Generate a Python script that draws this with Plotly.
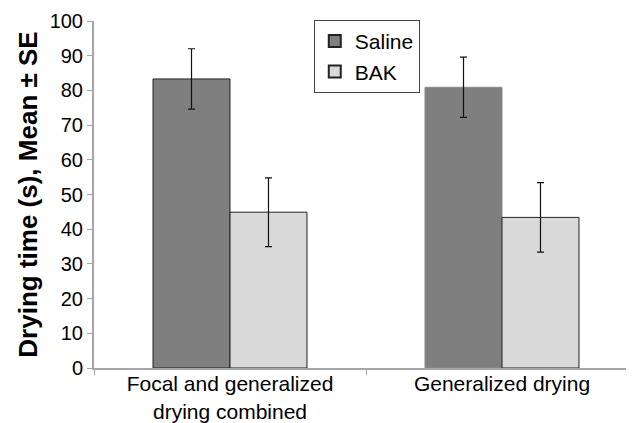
import plotly.graph_objects as go

categories = ["Focal and generalized<br>drying combined", "Generalized drying"]
saline_mean = [83.3, 80.9]
saline_se = [8.7, 8.7]
bak_mean = [44.9, 43.4]
bak_se = [9.9, 10.0]
y_ticks = [0, 10, 20, 30, 40, 50, 60, 70, 80, 90, 100]

FONT = "Arial, Liberation Sans, sans-serif"

fig = go.Figure()
fig.add_trace(go.Bar(
    name="Saline", x=categories, y=saline_mean,
    marker=dict(color="#7f7f7f", line=dict(color=["#222222", "#8a8a8a"], width=1)),
    error_y=dict(type="data", array=saline_se, color="#111111", thickness=1.2, width=3.5),
))
fig.add_trace(go.Bar(
    name="BAK", x=categories, y=bak_mean,
    marker=dict(color="#d9d9d9", line=dict(color="#222222", width=1)),
    error_y=dict(type="data", array=bak_se, color="#111111", thickness=1.2, width=3.5),
))

fig.update_layout(
    width=634, height=423,
    margin=dict(l=86, r=4, t=13, b=63),
    paper_bgcolor="white", plot_bgcolor="white",
    barmode="group", bargap=0.434, bargroupgap=0,
    font=dict(family=FONT, size=20, color="#000000"),
    showlegend=True,
    legend=dict(
        x=0.404, y=1.003, xanchor="left", yanchor="top",
        bordercolor="#444444", borderwidth=1, bgcolor="white",
        font=dict(size=21), tracegroupgap=0, itemsizing="constant",
    ),
    xaxis=dict(
        showline=True, linecolor="#a6a6a6", linewidth=2,
        ticks="outside", tickson="boundaries", ticklen=5, tickcolor="#a6a6a6",
        tickfont=dict(size=21), showgrid=False, automargin=False,
        ticklabelstandoff=-4,
    ),
    yaxis=dict(
        range=[0, 100], tickvals=y_ticks,
        showline=True, linecolor="#a6a6a6", linewidth=2,
        ticks="outside", ticklen=5, tickcolor="#a6a6a6",
        tickfont=dict(size=20), showgrid=False, zeroline=False, automargin=False,
        title=dict(text="<b>Drying time (s), Mean ± SE</b>", font=dict(size=26), standoff=5),
    ),
)

fig.write_html("out.html")
